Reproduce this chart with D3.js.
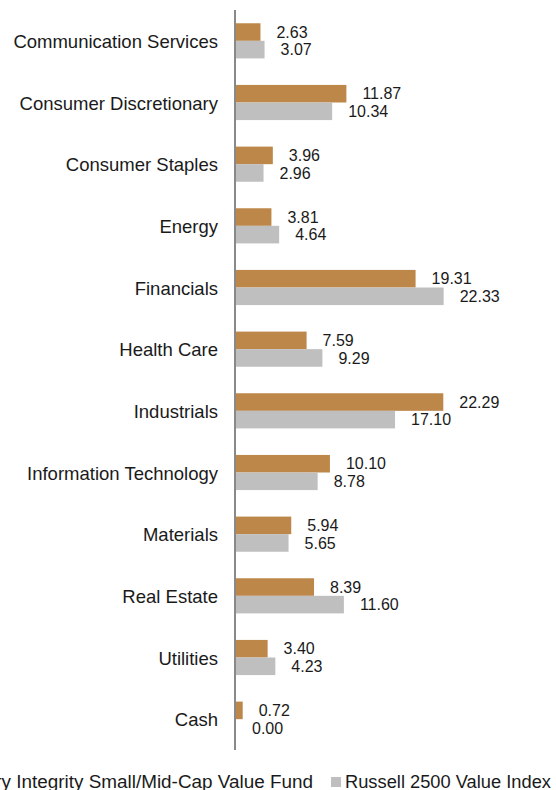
<!DOCTYPE html>
<html>
<head>
<meta charset="utf-8">
<script src="https://cdn.jsdelivr.net/npm/d3@7"></script>
<style>
  html, body { margin: 0; padding: 0; background: #fff; }
  svg { display: block; }
  text { font-family: "Liberation Sans", Arial, Helvetica, sans-serif; fill: #1a1a1a; }
</style>
</head>
<body>
<svg id="chart" width="556" height="790"></svg>
<script>
const categories = ["Communication Services","Consumer Discretionary","Consumer Staples","Energy","Financials","Health Care","Industrials","Information Technology","Materials","Real Estate","Utilities","Cash"];
const fundValues = [2.63, 11.87, 3.96, 3.81, 19.31, 7.59, 22.29, 10.10, 5.94, 8.39, 3.40, 0.72];
const indexValues = [3.07, 10.34, 2.96, 4.64, 22.33, 9.29, 17.10, 8.78, 5.65, 11.60, 4.23, 0.00];
const seriesNames = ["Victory Integrity Small/Mid-Cap Value Fund", "Russell 2500 Value Index"];
const seriesColors = ["#BC8749", "#BFBFBF"];

(function () {
const svg = d3.select("#chart");
const axisX = 236;
const plotTop = 10, plotBottom = 750;

const x = d3.scaleLinear().domain([0, 25]).range([axisX, axisX + 25 * 9.3]);
const y = d3.scaleBand().domain(categories).range([plotTop, plotBottom]).paddingInner(0.43).paddingOuter(0.215);
const sub = d3.scaleBand().domain([0, 1]).range([0, y.bandwidth()]);

const rows = categories.map((c, i) => ({ c, vals: [fundValues[i], indexValues[i]] }));

const g = svg.append("g");
const row = g.selectAll("g.row").data(rows).join("g").attr("class", "row")
  .attr("transform", d => `translate(0,${y(d.c)})`);

row.selectAll("rect").data(d => d.vals.map((v, k) => ({ v, k }))).join("rect")
  .attr("x", x(0))
  .attr("y", d => sub(d.k))
  .attr("width", d => x(d.v) - x(0))
  .attr("height", sub.bandwidth())
  .attr("fill", d => seriesColors[d.k]);

row.selectAll("text.val").data(d => d.vals.map((v, k) => ({ v, k }))).join("text")
  .attr("class", "val")
  .attr("x", d => x(d.v) + 16)
  .attr("y", d => sub(d.k) + sub.bandwidth() / 2)
  .attr("dy", "0.36em")
  .attr("font-size", 16)
  .text(d => d3.format(".2f")(d.v));

g.selectAll("text.cat").data(categories).join("text")
  .attr("class", "cat")
  .attr("x", axisX - 18)
  .attr("y", d => y(d) + y.bandwidth() / 2 + 0.5)
  .attr("dy", "0.36em")
  .attr("text-anchor", "end")
  .attr("font-size", 18.5)
  .text(d => d);

const yAxis = d3.axisLeft(y).tickSize(0).tickFormat("");
const ax = svg.append("g").attr("transform", `translate(${axisX - 1},0)`).call(yAxis);
ax.select(".domain").attr("stroke", "#898989").attr("stroke-width", 2).attr("d", `M0,${plotTop}V${plotBottom}`);

const legY = 781;
const leg = svg.append("g");
leg.append("text").attr("x", 313).attr("y", legY).attr("dy", "0.36em").attr("text-anchor", "end").attr("font-size", 18.9).text(seriesNames[0]);
leg.append("rect").attr("x", 331).attr("y", legY - 4).attr("width", 10).attr("height", 10).attr("fill", seriesColors[1]);
leg.append("text").attr("x", 345).attr("y", legY).attr("dy", "0.36em").attr("font-size", 18.3).text(seriesNames[1]);
})();
</script>
</body>
</html>
